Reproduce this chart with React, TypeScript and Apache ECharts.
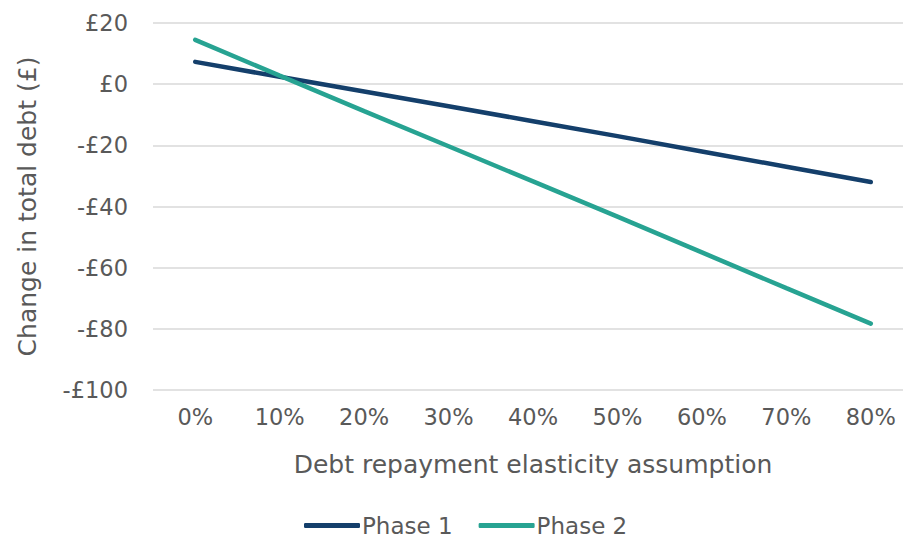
import React, { useEffect, useRef } from "react";
import * as echarts from "echarts";

const categories = ["0%", "10%", "20%", "30%", "40%", "50%", "60%", "70%", "80%"];
const phase1 = [7.3, 2.4, -2.4, -7.2, -12.1, -17.0, -22.0, -27.0, -32.0];
const phase2 = [14.5, 2.8, -8.8, -20.3, -31.8, -43.3, -55.0, -66.7, -78.3];
const seriesNames = ["Phase 1", "Phase 2"];
const colors = ["#143f6b", "#27a392"];

const FONT = "'DejaVu Sans', Verdana, sans-serif";
const TXT = "#595959";

function fmt(v: number) {
  if (v === 0) return "£0";
  return v < 0 ? `-£${Math.abs(v)}` : `£${v}`;
}

export default function App() {
  const ref = useRef<HTMLDivElement>(null);
  useEffect(() => {
    if (!ref.current) return;
    const chart = echarts.init(ref.current, undefined, { renderer: "svg" });
    chart.setOption({
      animation: false,
      textStyle: { fontFamily: FONT },
      grid: { left: 153, right: 0, top: 23, bottom: 150, containLabel: false },
      legend: {
        bottom: -2,
        left: 299,
        data: seriesNames,
        icon: "roundRect",
        itemWidth: 56,
        itemHeight: 5,
        itemGap: 26,
        textStyle: { fontFamily: FONT, fontSize: 23, color: TXT, padding: [0, 0, 0, -3] },
      },
      xAxis: {
        type: "category",
        data: categories,
        boundaryGap: true,
        axisLine: { show: false },
        axisTick: { show: false },
        axisLabel: { fontFamily: FONT, fontSize: 22.5, color: TXT, margin: 15 },
        name: "Debt repayment elasticity assumption",
        nameLocation: "middle",
        nameGap: 62,
        nameTextStyle: { fontFamily: FONT, fontSize: 25, color: TXT },
      },
      yAxis: {
        type: "value",
        min: -100,
        max: 20,
        interval: 20,
        axisLine: { show: false },
        axisTick: { show: false },
        splitLine: { lineStyle: { color: "#d9d9d9", width: 1.5 } },
        axisLabel: { fontFamily: FONT, fontSize: 22.5, color: TXT, margin: 25, formatter: fmt },
        name: "Change in total debt (£)",
        nameLocation: "middle",
        nameGap: 113,
        nameRotate: 90,
        nameTextStyle: { fontFamily: FONT, fontSize: 25, color: TXT },
      },
      series: [
        {
          name: seriesNames[0],
          type: "line",
          data: phase1,
          showSymbol: false,
          symbol: "none",
          lineStyle: { width: 4.5, color: colors[0], cap: "round" },
          itemStyle: { color: colors[0] },
        },
        {
          name: seriesNames[1],
          type: "line",
          data: phase2,
          showSymbol: false,
          symbol: "none",
          lineStyle: { width: 4.5, color: colors[1], cap: "round" },
          itemStyle: { color: colors[1] },
        },
      ],
    });
    return () => chart.dispose();
  }, []);
  return (
    <div style={{ width: 903, height: 540, position: "absolute", left: 0, top: 0, overflow: "hidden" }}>
      <div ref={ref} style={{ width: 913, height: 540, position: "absolute", left: 0, top: 0 }} />
    </div>
  );
}
